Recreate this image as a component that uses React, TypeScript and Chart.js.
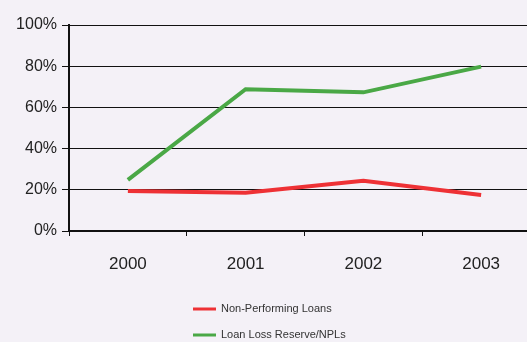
import React, { useEffect, useRef } from "react";
import { Chart, registerables } from "chart.js";

Chart.register(...registerables);

const years = ["2000", "2001", "2002", "2003"];
const nonPerformingLoans = [19.4, 18.6, 24.4, 17.5];
const loanLossReserve = [24.8, 68.8, 67.3, 79.8];
const yTicks = [0, 20, 40, 60, 80, 100];

const RED = "#ee3135";
const GREEN = "#4aa846";
const BG = "#f4f1f7";

const legendPlugin = {
  id: "verticalLegend",
  afterDraw(chart: any) {
    const ctx = chart.ctx;
    ctx.save();
    const rows = [309, 335];
    chart.data.datasets.forEach((ds: any, i: number) => {
      const y = rows[i];
      ctx.strokeStyle = ds.borderColor;
      ctx.lineWidth = 3;
      ctx.beginPath();
      ctx.moveTo(193, y);
      ctx.lineTo(216, y);
      ctx.stroke();
      ctx.fillStyle = "#333";
      ctx.font = "11px 'Liberation Sans', Arial, sans-serif";
      ctx.textBaseline = "middle";
      ctx.fillText(ds.label, 221, y);
    });
    ctx.restore();
  },
};

export default function App() {
  const ref = useRef<HTMLCanvasElement>(null);
  useEffect(() => {
    if (!ref.current) return;
    const chart = new Chart(ref.current, {
      type: "line",
      data: {
        labels: years,
        datasets: [
          {
            label: "Non-Performing Loans",
            data: nonPerformingLoans,
            borderColor: RED,
            backgroundColor: RED,
            borderWidth: 4,
            pointRadius: 0,
            tension: 0,
          },
          {
            label: "Loan Loss Reserve/NPLs",
            data: loanLossReserve,
            borderColor: GREEN,
            backgroundColor: GREEN,
            borderWidth: 4,
            pointRadius: 0,
            tension: 0,
          },
        ],
      },
      options: {
        responsive: false,
        animation: false,
        layout: { padding: { top: 25, right: 20, left: 0, bottom: 0 } },
        plugins: { legend: { display: false }, tooltip: { enabled: false } },
        scales: {
          x: {
            type: "category",
            offset: true,
            grid: {
              offset: true,
              drawOnChartArea: false,
              drawTicks: true,
              tickLength: 5,
              color: "#111",
              lineWidth: 1,
            },
            border: { color: "#111", width: 2 },
            ticks: {
              color: "#222",
              padding: 18,
              font: { size: 17, family: "'Liberation Sans', Arial, sans-serif" },
            },
            afterFit: (s: any) => {
              s.height = 342 - 231;
            },
          },
          y: {
            min: 0,
            max: 100,
            afterBuildTicks: (s: any) => {
              s.ticks = yTicks.map((v) => ({ value: v }));
            },
            grid: {
              color: "#111",
              lineWidth: 1,
              drawTicks: true,
              tickLength: 7,
            },
            border: { color: "#111", width: 2 },
            ticks: {
              color: "#222",
              padding: 5,
              font: { size: 16, family: "'Liberation Sans', Arial, sans-serif" },
              callback: (v: any) => v + "%",
            },
            afterFit: (s: any) => {
              s.width = 69;
            },
          },
        },
      },
      plugins: [legendPlugin],
    });
    return () => chart.destroy();
  }, []);
  return (
    <div
      style={{
        position: "absolute",
        left: 0,
        top: 0,
        width: 527,
        height: 342,
        overflow: "hidden",
        background: BG,
      }}
    >
      <canvas ref={ref} width={560} height={342} style={{ display: "block" }} />
    </div>
  );
}
